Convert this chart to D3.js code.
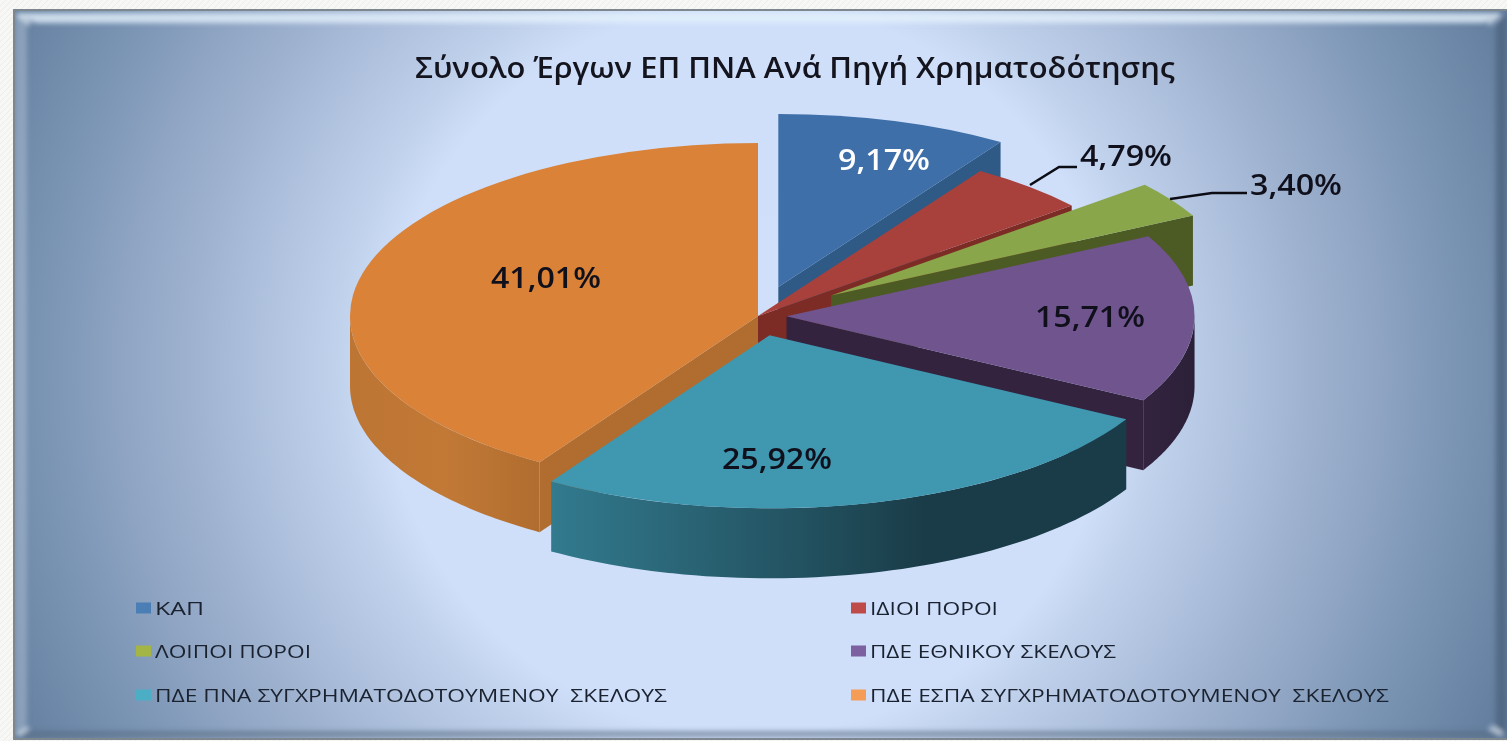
<!DOCTYPE html>
<html><head><meta charset="utf-8">
<script src="https://cdn.jsdelivr.net/npm/d3@7"></script>
<style>html,body{margin:0;padding:0;background:#f5f5f3;overflow:hidden}svg{display:block}</style>
</head><body><svg id="c" width="1507" height="741"></svg>
<script>
const categories = ["ΚΑΠ","ΙΔΙΟΙ ΠΟΡΟΙ","ΛΟΙΠΟΙ ΠΟΡΟΙ","ΠΔΕ ΕΘΝΙΚΟΥ ΣΚΕΛΟΥΣ","ΠΔΕ ΠΝΑ ΣΥΓΧΡΗΜΑΤΟΔΟΤΟΥΜΕΝΟΥ  ΣΚΕΛΟΥΣ","ΠΔΕ ΕΣΠΑ ΣΥΓΧΡΗΜΑΤΟΔΟΤΟΥΜΕΝΟΥ  ΣΚΕΛΟΥΣ"];
const shares = [9.17,4.79,3.40,15.71,25.92,41.01];
const titleText = "Σύνολο Έργων ΕΠ ΠΝΑ Ανά Πηγή Χρηματοδότησης";

const explode = [0.175,0,0.215,0.07,0.115,0];
const topColors = ["#3f6fa8","#a8403c","#8aa64a","#70548e","#3f97b0","#d98238"];
const wallColors = ["#2f5a85","#7c2c25","#4c5a24","#33233f","#1a3c48","#b06d2f"];
const rimStops = [null,null,null,
  [["0","#33233f"],["1","#2c2038"]],
  [["0","#327a8e"],["0.4","#245564"],["0.65","#1a3c48"],["1","#1a3c48"]],
  [["0","#bd7534"],["0.5","#c27936"],["1","#b06d2f"]]];
const labelColors = ["#fff","#10101c","#10101c","#10101c","#10101c","#10101c"];
const labelPos = [[884,160],[1126,156],[1296,185],[1090,317],[777,459],[546,278]];
const labelWidths = [92,92,92,110,110,110];
const legendPos = [[136,608],[851,608],[136,651],[851,651],[136,695],[851,695]];
const legendWidths = [49,128,156,246,512,519];
const legendSwatch = ["#4a7eb5","#be4b48","#a3b645","#7d60a0","#4baec5","#f59d56"];
const cx=758, cy=316, rx=408, ry=173, depth=70;

const svg=d3.select("#c"), defs=svg.append("defs");

const pat=defs.append("pattern").attr("id","tex").attr("width",6).attr("height",6).attr("patternUnits","userSpaceOnUse");
pat.append("rect").attr("width",6).attr("height",6).attr("fill","#f7f7f5");
pat.append("path").attr("d","M0 6L6 0").attr("stroke","#ececea").attr("stroke-width",1);
svg.append("rect").attr("width",1507).attr("height",741).attr("fill","url(#tex)");

const panelGrad=defs.append("radialGradient").attr("id","panel").attr("gradientUnits","userSpaceOnUse")
  .attr("cx",750).attr("cy",370).attr("r",830);
[[0,"#d0e0fb"],[0.44,"#cfdffa"],[0.5,"#c0d1ec"],[0.63,"#a7bad7"],[0.76,"#8ea4c2"],[0.86,"#7993b3"],[1,"#627d9d"]]
  .forEach(s=>panelGrad.append("stop").attr("offset",s[0]).attr("stop-color",s[1]));
const blur=defs.append("filter").attr("id","soft").attr("filterUnits","userSpaceOnUse").attr("x",0).attr("y",0).attr("width",1507).attr("height",741);
blur.append("feGaussianBlur").attr("stdDeviation",2.4);
const clip=defs.append("clipPath").attr("id","panelClip");
clip.append("rect").attr("x",15).attr("y",11).attr("width",1492).attr("height",727);

svg.append("rect").attr("x",13).attr("y",9).attr("width",1494).attr("height",731).attr("fill","#7e868e");
svg.append("rect").attr("x",15).attr("y",11).attr("width",1492).attr("height",727).attr("fill","url(#panel)");
const bevelShapes=[
  {d:[[15,13],[1500,13],[1484,23],[36,23]],fill:"#e4f0fb",op:.8},
  {d:[[15,13],[27,24],[27,722],[15,737]],fill:"#a8b9cf",op:.55},
  {d:[[15,737],[30,731],[1488,731],[1507,737]],fill:"#56697f",op:.6},
  {d:[[1507,13],[1496,26],[1496,726],[1507,737]],fill:"#50657f",op:.85},
];
const line=d3.line();
const bevel=svg.append("g").attr("clip-path","url(#panelClip)").append("g").attr("filter","url(#soft)");
bevel.selectAll("path").data(bevelShapes).join("path").attr("d",d=>line(d.d)+"Z").attr("fill",d=>d.fill).attr("opacity",d=>d.op);
const glints=[[[18,15],[30,24]],[[1500,14],[1488,24]],[[18,735],[28,727]],[[1502,734],[1490,727]]];
bevel.append("g").selectAll("path").data(glints).join("path").attr("d",d=>line(d)).attr("stroke","#e6eef6").attr("stroke-width",4).attr("opacity",.75);

const pie=d3.pie().sort(null).value(d=>d);
const slices=pie(shares);
const arc=d3.arc().innerRadius(0).outerRadius(rx);
const yk=ry/rx;
const pt=(th,r,o,dy=0)=>[o[0]+r*Math.sin(th), o[1]-r*Math.cos(th)*yk+dy];
const origin=(s,i)=>{const m=(s.startAngle+s.endAngle)/2;return [cx+explode[i]*rx*Math.sin(m), cy-explode[i]*rx*Math.cos(m)*yk];};
const order=[0,1,2,5,3,4];
const gPie=svg.append("g");
order.forEach(i=>{
  const s=slices[i], o=origin(s,i), a=s.startAngle, b=s.endAngle, g=gPie.append("g");
  const wall=th=>line([o,[o[0],o[1]+depth],pt(th,rx,o,depth),pt(th,rx,o)])+"Z";
  if(Math.sin(a)<-1e-6) g.append("path").attr("d",wall(a)).attr("fill",wallColors[i]);
  if(Math.sin(b)>1e-6) g.append("path").attr("d",wall(b)).attr("fill",wallColors[i]);
  const r0=Math.max(a,Math.PI/2), r1=Math.min(b,3*Math.PI/2);
  if(r1>r0){
    const th=d3.range(0,61).map(k=>r0+(r1-r0)*k/60);
    const poly=th.map(t=>pt(t,rx,o)).concat(th.slice().reverse().map(t=>pt(t,rx,o,depth)));
    let fill=wallColors[i];
    if(rimStops[i]){
      const xs=poly.map(p=>p[0]), id="rim"+i;
      const gr=defs.append("linearGradient").attr("id",id).attr("gradientUnits","userSpaceOnUse")
        .attr("x1",d3.min(xs)).attr("x2",d3.max(xs)).attr("y1",0).attr("y2",0);
      rimStops[i].forEach(st=>gr.append("stop").attr("offset",st[0]).attr("stop-color",st[1]));
      fill=`url(#${id})`;
    }
    g.append("path").attr("d",line(poly)+"Z").attr("fill",fill);
  }
  g.append("path").attr("d",arc(s)).attr("transform",`translate(${o[0]},${o[1]}) scale(1,${yk})`).attr("fill",topColors[i]);
});

const leaders=[[[1030,185],[1059,167],[1077,167]],[[1170,199],[1212,193],[1247,193]]];
svg.append("g").selectAll("path").data(leaders).join("path").attr("d",d=>line(d)).attr("fill","none").attr("stroke","#0c0c14").attr("stroke-width",2.6);

const font="'Open Sans','Noto Sans',sans-serif";
svg.append("text").attr("x",415).attr("y",78).attr("textLength",760).attr("lengthAdjust","spacingAndGlyphs")
  .attr("font-family",font).attr("font-weight",600).attr("font-size",28).attr("fill","#14141e").text(titleText);

svg.append("g").selectAll("text").data(slices).join("text")
  .attr("x",(d,i)=>labelPos[i][0]-labelWidths[i]/2).attr("y",(d,i)=>labelPos[i][1]).attr("dy",".36em")
  .attr("textLength",(d,i)=>labelWidths[i]).attr("lengthAdjust","spacingAndGlyphs")
  .attr("font-family",font).attr("font-weight",600).attr("font-size",28)
  .attr("fill",(d,i)=>labelColors[i])
  .text(d=>d.value.toFixed(2).replace(".",",")+"%");

const lg=svg.append("g").selectAll("g").data(categories).join("g").attr("transform",(d,i)=>`translate(${legendPos[i][0]},${legendPos[i][1]})`);
lg.append("rect").attr("x",0).attr("y",-5.5).attr("width",15).attr("height",11).attr("fill",(d,i)=>legendSwatch[i]);
lg.append("text").attr("x",19).attr("y",6.5).style("white-space","pre")
  .attr("textLength",(d,i)=>legendWidths[i]).attr("lengthAdjust","spacingAndGlyphs")
  .attr("font-family",font).attr("font-size",18).attr("fill","#1a2230").text(d=>d);
</script></body></html>
